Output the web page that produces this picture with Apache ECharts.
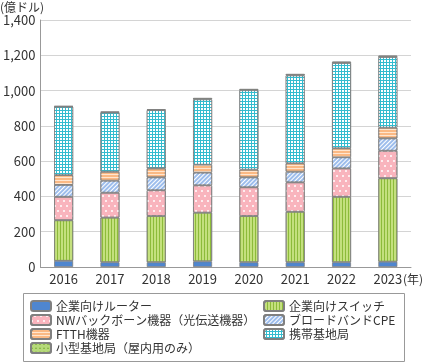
<!DOCTYPE html>
<html><head><meta charset="utf-8">
<script src="https://cdn.jsdelivr.net/npm/echarts@6/dist/echarts.min.js"></script>
<style>html,body{margin:0;padding:0;background:#fff}#c{width:425px;height:364px}</style>
</head><body><div id="c"></div>
<script>
const years = ['2016','2017','2018','2019','2020','2021','2022','2023'];
const yTicks = [0,200,400,600,800,1000,1200,1400];
const router = [35,27,27,32,27,27,27,30];
const switchV = [230,253,262,276,262,286,371,473];
const nw = [133,141,146,155,163,167,161,156];
const bb = [67,68,73,72,56,60,63,70];
const ftth = [56,51,51,45,44,48,51,61];
const mobile = [388,336,330,370,450,498,483,400];
const small = [3,4,5,8,7,8,8,8];
const names = ['企業向けルーター','企業向けスイッチ','NWバックボーン機器（光伝送機器）','ブロードバンドCPE','FTTH機器','携帯基地局','小型基地局（屋内用のみ）'];

const FONT = '"Noto Sans CJK JP","Noto Sans",sans-serif';
const styles = [
  {color:'#4f86cf'},
  {color:'#c4e07e', decal:{symbol:'rect', color:'#8dbb3a', dashArrayX:[1,2], dashArrayY:[10,0], symbolSize:1}},
  {color:'#f9b4bd', decal:{symbol:'circle', color:'#ffffff', dashArrayX:[[2,4],[0,3,2,1]], dashArrayY:[2,3], symbolSize:1}},
  {color:'#9dbdec', decal:{symbol:'rect', color:'#ffffff', dashArrayX:[1,0], dashArrayY:[1,2], rotation:-Math.PI/4, symbolSize:1}},
  {color:'#fbb984', decal:{symbol:'rect', color:'#ffe6d0', dashArrayX:[1,0], dashArrayY:[1,2], symbolSize:1}},
  {color:'#33bccf', decal:{symbol:'rect', color:'#ffffff', dashArrayX:[2,1], dashArrayY:[2,1], symbolSize:1}},
  {color:'#b6d97a', decal:{symbol:'triangle', color:'#7fae3c', dashArrayX:[2,2], dashArrayY:[2,2], symbolSize:1}}
];
const datas = [router, switchV, nw, bb, ftth, mobile, small];

const series = datas.map((d,i)=>({
  name: names[i], type:'bar', stack:'t', data:d, barWidth:19,
  itemStyle: Object.assign({borderColor:'#808080', borderWidth:0.8}, styles[i]),
  emphasis:{disabled:true}
}));

const legendText = {fontSize:12, color:'#333', lineHeight:14, fontFamily:FONT};
const chart = echarts.init(document.getElementById('c'), null, {renderer:'canvas'});
chart.setOption({
  animation:false,
  textStyle:{fontFamily:FONT},
  grid:{left:38, right:14, top:20, bottom:97},
  legend:[
    {data:[names[0],names[2],names[4],names[6]], orient:'vertical', left:30, top:299, padding:0, height:60, itemWidth:20, itemHeight:10, itemGap:0,
     textStyle:legendText, selectedMode:false},
    {data:[names[1],names[3],names[5]], orient:'vertical', left:263, top:299, padding:0, height:60, itemWidth:20, itemHeight:10, itemGap:0,
     textStyle:legendText, selectedMode:false}
  ],
  xAxis:{type:'category', data:years,
    axisLine:{lineStyle:{color:'#999'}},
    axisTick:{inside:true, length:5, lineStyle:{color:'#999'}},
    axisLabel:{color:'#333', fontSize:13, margin:6, fontFamily:FONT}},
  yAxis:{type:'value', min:yTicks[0], max:yTicks[yTicks.length-1], interval:200,
    axisLine:{show:true, lineStyle:{color:'#999'}},
    axisTick:{show:false},
    splitLine:{lineStyle:{color:'#d4d4d4'}},
    axisLabel:{color:'#333', fontSize:13, margin:5, fontFamily:FONT,
      formatter:v=>v.toLocaleString('en-US')}},
  graphic:[
    {type:'text', left:0, top:1, style:{text:'(億ドル)', fontSize:12, fill:'#333', fontFamily:FONT}},
    {type:'text', left:403, top:273, style:{text:'(年)', fontSize:12, fill:'#333', fontFamily:FONT}},
    {type:'rect', shape:{x:23.5, y:293.5, width:381, height:68}, style:{fill:'none', stroke:'#999', lineWidth:1}, z:-1}
  ],
  series: series
});
</script></body></html>
